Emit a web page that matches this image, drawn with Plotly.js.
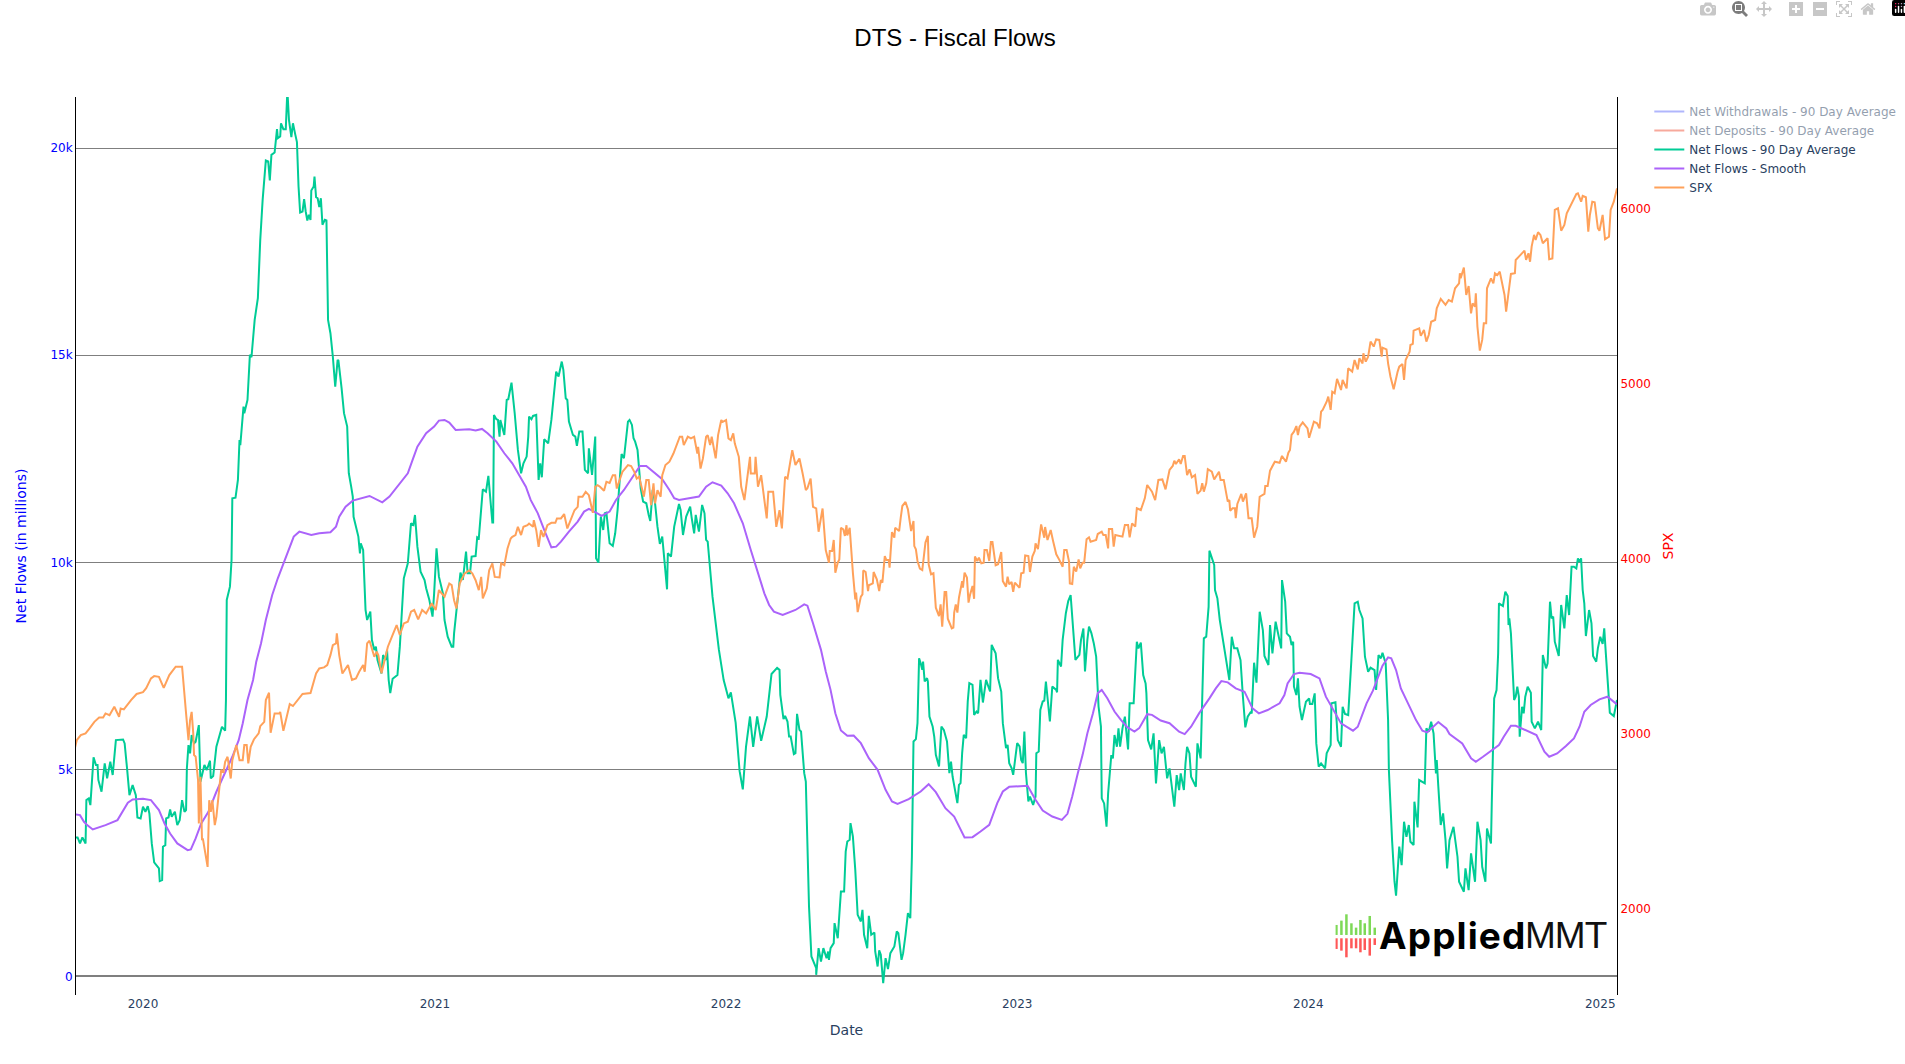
<!DOCTYPE html>
<html><head><meta charset="utf-8">
<script src="https://cdn.plot.ly/plotly-3.0.1.min.js"></script>
<style>html,body{margin:0;padding:0;background:#fff;overflow:hidden}#chart{width:1914px;height:1064px}.modebar-container{transform:translateY(-5px)}</style>
</head><body><div id="chart"></div>
<script>
// Every point is [years since 1 Jan 2020, value].
const netFlowsAvg = [
[-0.233,3357],[-0.223,3357],[-0.215,3212],[-0.208,3357],[-0.197,3212],[-0.192,4258],[-0.185,4298],[-0.178,4138],[-0.168,5290],[-0.16,5105],[-0.155,5105],[-0.151,4745],[-0.14,4460],[-0.13,5144],[-0.122,4785],[-0.112,5184],[-0.103,4865],[-0.091,5707],[-0.068,5723],[-0.061,5626],[-0.053,5023],[-0.046,4380],[-0.034,4620],[-0.027,4420],[-0.022,4380],[-0.018,3840],[-0.008,3816],[0.002,4097],[0.009,3977],[0.017,4113],[0.023,3936],[0.032,3212],[0.041,2753],[0.055,2608],[0.059,2302],[0.066,2326],[0.071,3131],[0.077,3172],[0.08,3816],[0.088,3840],[0.094,4033],[0.101,3856],[0.111,3977],[0.12,3655],[0.128,3775],[0.135,4258],[0.143,3977],[0.149,4017],[0.152,5023],[0.157,5587],[0.163,5386],[0.169,5828],[0.177,5627],[0.183,5667],[0.192,6070],[0.199,4701],[0.212,5105],[0.22,4985],[0.23,5210],[0.235,4782],[0.243,4842],[0.252,5547],[0.264,5789],[0.272,6029],[0.283,5934],[0.286,6673],
[0.289,9090],[0.3,9412],[0.305,10056],[0.309,11546],[0.318,11560],[0.326,11988],[0.332,12954],[0.336,12830],[0.346,13760],[0.35,13600],[0.361,13920],[0.367,15008],[0.375,14950],[0.384,15853],[0.396,16377],[0.404,17785],[0.413,18750],[0.423,19700],[0.431,19677],[0.436,19218],[0.441,19838],[0.452,19894],[0.46,20458],[0.463,20240],[0.471,20280],[0.476,20600],[0.483,20458],[0.491,20458],[0.497,21400],[0.503,20683],[0.51,20265],[0.516,20600],[0.523,20320],[0.531,20144],[0.535,19073],[0.54,18445],[0.549,18470],[0.555,18767],[0.56,18470],[0.566,18252],[0.572,18390],[0.575,18268],[0.579,18977],[0.586,19073],[0.589,19315],[0.595,18816],[0.601,18790],[0.606,18574],[0.612,18790],[0.618,18150],[0.625,18268],[0.63,18252],[0.636,15853],[0.644,15530],[0.652,14968],[0.661,14240],[0.669,14887],[0.673,14870],[0.682,14200],[0.686,13920],[0.692,13600],[0.701,13276],[0.709,12150],[0.715,11827],[0.721,11586],[0.724,11100],[0.732,10861],[0.74,10620],[0.746,10217],[0.749,10459],[0.757,10300],[0.764,8850],[0.771,8607],[0.783,8808],[0.787,8124],[0.795,7883],[0.801,7963],[0.807,7640],[0.82,7319],[0.826,7762],[0.833,7640],[0.839,7883],[0.844,7158],[0.85,6844],[0.858,7190],[0.875,7280],[0.883,7963],[0.898,9614],[0.91,9976],[0.921,10942],[0.929,10900],[0.936,11143],[0.942,10378],[0.955,9775],[0.967,9573],[0.973,9372],[0.984,9090],[0.994,8688],[1.001,9251],[1.008,10338],[1.016,9654],[1.03,9250],[1.037,8607],[1.047,8205],[1.062,7963],[1.066,7963],[1.07,8285],[1.087,9734],[1.092,9750],[1.1,9573],[1.11,10258],[1.116,9734],[1.123,9734],[1.13,10137],[1.142,10150],[1.148,10604],[1.153,10580],[1.167,11763],[1.179,11706],[1.187,12085],[1.2,10958],[1.202,10958],[1.206,13558],[1.213,13453],[1.22,13437],[1.224,13035],[1.227,13437],[1.241,13075],[1.249,13920],[1.256,13936],[1.265,14339],[1.277,13598],[1.287,12713],[1.299,12150],[1.307,12390],[1.318,12552],[1.324,13035],[1.327,13518],[1.335,13453],[1.341,13534],[1.352,13558],[1.358,11988],[1.364,12390],[1.371,12053],[1.379,12970],[1.393,12874],[1.402,13437],[1.419,14604],[1.428,14484],[1.439,14846],[1.445,14645],[1.453,13960],[1.459,13920],[1.464,13397],[1.476,13075],[1.485,13035],[1.492,12809],[1.499,13156],[1.51,13156],[1.517,12230],[1.528,12150],[1.533,12753],[1.542,12110],[1.553,13035],[1.556,10097],[1.564,9992],[1.573,11103],[1.58,10780],[1.586,11183],[1.593,11199],[1.602,10459],[1.613,10394],[1.621,10700],[1.63,11264],[1.645,12616],[1.653,12512],[1.665,13397],[1.671,13437],[1.68,13317],[1.684,12995],[1.691,12914],[1.699,12713],[1.705,12150],[1.71,11787],[1.718,11465],[1.728,11425],[1.736,11143],[1.743,10998],[1.751,11747],[1.76,11425],[1.768,10860],[1.776,10443],[1.785,10620],[1.79,10217],[1.799,9348],[1.804,10217],[1.813,10137],[1.825,10861],[1.842,11409],[1.848,11264],[1.856,10660],[1.867,11103],[1.879,11344],[1.884,11063],[1.893,10700],[1.899,11143],[1.91,10740],[1.92,11385],[1.928,11183],[1.934,10540],[1.94,10500],[1.945,10056],[1.956,9170],[1.977,7890],[1.994,7156],[2.01,6716],[2.02,6860],[2.036,6130],[2.05,4957],[2.06,4517],[2.072,5543],[2.086,6277],[2.097,5543],[2.11,6277],[2.122,5690],[2.143,6277],[2.16,7303],[2.177,7450],
[2.185,7403],[2.188,6800],[2.199,6212],[2.206,6293],[2.214,6156],[2.219,5794],[2.225,5794],[2.236,5367],[2.242,5392],[2.246,6340],[2.254,5955],[2.261,5915],[2.265,5270],[2.272,4908],[2.277,4708],[2.281,3300],[2.288,1690],[2.295,483],[2.303,322],[2.311,200],[2.313,40],[2.32,684],[2.328,362],[2.338,684],[2.347,442],[2.352,603],[2.357,402],[2.362,684],[2.372,805],[2.376,1288],[2.385,925],[2.397,2052],[2.408,2052],[2.414,3018],[2.42,3259],[2.428,3300],[2.431,3702],[2.437,3380],[2.446,2575],[2.455,1489],[2.465,1328],[2.471,1609],[2.476,1006],[2.488,684],[2.494,1465],[2.502,1006],[2.511,1062],[2.515,603],[2.524,241],[2.528,628],[2.534,523],[2.542,-161],[2.549,442],[2.559,177],[2.568,563],[2.58,724],[2.588,1086],[2.595,1046],[2.604,402],[2.611,563],[2.62,1006],[2.628,1529],[2.635,1408],[2.64,2897],[2.645,5673],[2.654,5730],[2.66,6116],[2.666,7685],[2.671,7564],[2.677,7403],[2.679,7605],[2.684,7122],[2.692,7202],[2.696,7122],[2.702,6277],[2.711,6035],[2.717,5794],[2.723,5351],[2.734,5070],[2.742,6035],[2.751,5955],[2.76,5673],[2.768,4908],[2.774,5190],[2.78,4828],[2.796,4184],[2.803,4627],[2.809,4667],[2.812,5392],[2.818,5834],[2.826,5754],[2.831,6639],[2.837,7081],[2.849,7041],[2.853,6317],[2.862,6397],[2.868,6357],[2.875,7162],[2.883,6615],[2.894,7162],[2.908,6880],[2.915,8007],[2.929,7805],[2.932,7645],[2.937,7202],[2.946,6880],[2.952,6116],[2.963,5512],[2.97,5593],[2.974,5150],[2.983,5030],[2.989,4868],[3.001,5633],[3.009,5553],[3.015,5230],[3.021,5150],[3.026,5915],[3.032,4908],[3.041,4225],[3.047,4345],[3.057,4144],[3.064,4345],[3.068,5392],[3.077,5432],[3.082,6437],[3.089,6639],[3.095,6660],[3.1,7122],[3.107,6679],[3.115,6156],[3.123,7001],[3.135,6920],[3.139,6860],[3.142,7645],[3.153,7484],[3.158,8128],[3.17,8770],[3.178,9063],[3.186,9210],[3.192,8700],[3.203,7645],[3.215,7765],[3.22,8128],[3.228,8400],[3.235,7363],[3.243,8128],[3.249,8450],[3.258,8290],[3.266,8047],[3.272,7725],[3.281,6518],[3.289,6035],[3.293,4300],[3.301,4179],[3.309,3615],[3.313,4420],[3.324,5346],[3.33,5266],[3.335,5829],[3.343,5547],[3.35,5990],[3.355,5547],[3.364,5990],[3.371,6272],[3.382,5483],[3.389,6594],[3.403,6594],[3.412,8083],[3.419,7922],[3.427,8059],[3.434,7278],[3.442,7077],[3.446,6835],[3.452,5708],[3.461,5483],[3.469,5869],[3.478,4662],[3.49,5708],[3.498,5386],[3.507,5547],[3.516,4783],[3.526,5024],[3.541,4098],[3.549,4863],[3.559,4501],[3.564,4903],[3.575,4501],[3.579,5145],[3.584,5547],[3.593,5386],[3.599,4823],[3.614,4581],[3.62,5628],[3.633,5266],[3.644,8164],[3.652,8204],[3.658,8928],[3.663,10281],[3.679,9935],[3.682,9331],[3.69,9130],[3.698,8606],[3.713,7882],[3.721,7520],[3.73,7157],[3.739,8204],[3.747,7922],[3.758,7922],[3.77,7640],[3.776,6755],[3.785,6014],[3.794,6272],[3.805,6393],[3.808,6350],[3.815,7576],[3.823,7093],[3.833,8808],[3.845,8365],[3.85,7737],[3.864,7520],[3.869,8486],[3.879,7801],[3.888,8566],[3.908,7922],[3.912,9572],[3.922,9049],[3.928,8284],[3.939,8204],[3.943,8003],[3.948,8084],[3.953,6996],[3.959,6795],[3.967,7198],[3.97,6513],[3.98,6191],[3.993,6634],[4.003,6715],[4.007,6578],[4.016,6578],[4.022,6835],[4.028,5628],[4.037,5064],[4.045,5145],[4.06,5024],[4.064,5386],[4.079,5587],[4.081,6594],[4.094,6618],[4.102,5708],[4.114,5547],[4.119,6513],[4.128,6336],[4.138,6312],[4.148,7640],[4.159,9009],[4.171,9049],[4.176,8848],[4.188,8647],[4.197,7721],[4.208,7359],[4.216,7455],[4.228,7399],[4.234,6916],[4.243,7761],[4.251,7681],[4.257,7818],[4.268,7560],[4.274,6191],[4.279,4984],[4.288,3293],[4.296,2300],[4.303,1950],[4.313,3134],[4.322,2690],[4.33,3736],[4.337,3374],[4.345,3656],[4.353,3253],[4.363,3173],[4.366,4219],[4.376,3599],[4.382,4742],[4.393,4702],[4.402,4663],[4.407,5990],[4.416,5910],[4.424,6151],[4.431,5869],[4.439,4903],[4.442,5225],[4.448,4581],[4.456,3656],[4.465,3937],[4.473,3293],[4.477,2609],[4.485,3293],[4.5,3615],[4.508,3092],[4.514,2891],[4.519,2287],[4.534,2046],[4.54,2609],[4.551,2086],[4.559,2971],[4.573,2287],[4.582,3736],[4.593,3293],[4.599,2649],[4.608,2287],[4.616,3575],[4.628,3213],[4.631,4179],[4.635,5386],[4.639,6715],[4.647,6916],[4.653,7801],[4.657,9009],[4.67,8945],[4.677,9291],[4.685,9186],[4.688,8486],[4.692,8647],[4.696,8284],[4.708,6674],[4.713,6755],[4.718,6996],[4.723,6755],[4.727,5789],[4.734,6513],[4.74,6352],[4.745,6755],[4.753,6996],[4.764,6852],[4.768,6151],[4.78,5990],[4.791,6151],[4.8,5950],[4.807,7761],[4.816,7439],[4.822,7560],[4.83,9049],[4.837,8647],[4.843,8690],[4.847,8083],[4.86,7737],[4.87,8969],[4.879,8405],[4.889,9210],[4.897,8727],[4.906,9894],[4.914,9894],[4.92,9850],[4.927,10096],[4.931,10010],[4.937,10096],[4.942,9331],[4.948,9009],[4.954,8220],[4.965,8848],[4.974,8526],[4.98,7737],[4.991,7600],[4.996,7922],[5.004,8204],[5.011,8027],[5.017,8405],[5.022,7801],[5.036,6369],[5.051,6288],[5.062,6674]
];
const netFlowsSmooth = [
[-0.233,3920],[-0.214,3896],[-0.2,3735],[-0.189,3655],[-0.172,3550],[-0.126,3655],[-0.086,3775],[-0.069,3977],[-0.051,4194],[-0.034,4275],[0,4290],[0.029,4258],[0.055,4017],[0.074,3695],[0.094,3453],[0.12,3212],[0.154,3051],[0.166,3067],[0.183,3333],[0.2,3695],[0.227,3977],[0.252,4460],[0.28,4862],[0.309,5305],[0.33,5707],[0.343,6110],[0.36,6673],[0.378,7158],[0.389,7600],[0.406,8044],[0.423,8607],[0.446,9211],[0.463,9614],[0.483,9976],[0.503,10298],[0.52,10620],[0.538,10740],[0.578,10660],[0.606,10700],[0.646,10724],[0.664,10861],[0.675,11103],[0.696,11344],[0.721,11489],[0.778,11602],[0.822,11449],[0.847,11586],[0.881,11868],[0.91,12149],[0.927,12471],[0.944,12793],[0.973,13115],[1.001,13276],[1.018,13421],[1.035,13437],[1.053,13373],[1.075,13196],[1.121,13212],[1.144,13180],[1.164,13220],[1.184,13115],[1.213,12914],[1.241,12632],[1.27,12390],[1.293,12109],[1.316,11827],[1.333,11505],[1.356,11183],[1.379,10781],[1.39,10580],[1.404,10362],[1.419,10378],[1.436,10499],[1.464,10740],[1.493,10982],[1.516,11224],[1.533,11288],[1.556,11200],[1.577,11119],[1.602,11224],[1.625,11505],[1.653,11747],[1.682,12053],[1.707,12326],[1.728,12326],[1.756,12173],[1.785,12005],[1.808,11747],[1.825,11546],[1.842,11505],[1.911,11586],[1.933,11827],[1.956,11932],[1.985,11852],[2.008,11666],[2.031,11425],[2.06,10942],[2.088,10298],[2.117,9654],[2.134,9251],[2.151,8970],[2.168,8809],[2.197,8728],[2.242,8849],[2.271,8986],[2.282,8953],[2.3,8527],[2.317,8124],[2.328,7886],[2.345,7363],[2.362,6920],[2.379,6357],[2.397,5939],[2.42,5810],[2.442,5818],[2.465,5633],[2.494,5271],[2.523,4989],[2.551,4506],[2.572,4225],[2.591,4168],[2.631,4281],[2.671,4466],[2.698,4643],[2.723,4450],[2.757,4064],[2.786,3863],[2.82,3356],[2.849,3364],[2.877,3500],[2.906,3661],[2.934,4184],[2.954,4466],[2.974,4579],[3.037,4603],[3.066,4265],[3.089,4007],[3.123,3863],[3.155,3782],[3.175,3927],[3.192,4345],[3.209,4909],[3.226,5351],[3.243,5874],[3.261,6357],[3.278,6840],[3.291,6920],[3.312,6719],[3.335,6397],[3.358,6196],[3.381,6019],[3.404,5915],[3.421,5995],[3.449,6333],[3.466,6317],[3.495,6180],[3.524,6116],[3.559,5910],[3.576,5853],[3.599,6030],[3.627,6352],[3.662,6715],[3.684,6956],[3.702,7133],[3.724,7101],[3.753,6956],[3.782,6876],[3.81,6473],[3.831,6352],[3.862,6433],[3.902,6594],[3.919,6795],[3.93,7077],[3.951,7302],[3.97,7335],[4.01,7302],[4.039,7198],[4.062,6755],[4.085,6433],[4.114,6111],[4.154,5934],[4.171,6030],[4.2,6594],[4.222,6900],[4.257,7504],[4.274,7705],[4.285,7681],[4.302,7399],[4.319,6956],[4.337,6674],[4.371,6191],[4.392,5934],[4.408,5894],[4.448,6143],[4.474,5990],[4.485,5853],[4.531,5628],[4.56,5266],[4.577,5185],[4.6,5306],[4.656,5588],[4.673,5789],[4.696,6054],[4.713,6054],[4.753,5934],[4.784,5829],[4.811,5427],[4.828,5306],[4.856,5386],[4.885,5563],[4.914,5749],[4.931,6030],[4.948,6393],[4.971,6554],[5,6691],[5.028,6755],[5.062,6570]
];
const spx = [
[-0.233,2904],[-0.226,2961],[-0.212,2990],[-0.195,3000],[-0.183,3028],[-0.166,3066],[-0.149,3091],[-0.135,3091],[-0.128,3114],[-0.114,3104],[-0.097,3152],[-0.082,3095],[-0.074,3142],[-0.063,3137],[-0.04,3190],[-0.02,3225],[0,3235],[0.012,3258],[0.029,3314],[0.04,3327],[0.057,3323],[0.072,3260],[0.092,3333],[0.114,3381],[0.135,3381],[0.143,3190],[0.149,3114],[0.157,2961],[0.162,3076],[0.168,3123],[0.174,3000],[0.177,2876],[0.183,2867],[0.189,2733],[0.192,2485],[0.198,2752],[0.203,2390],[0.208,2400],[0.214,2304],[0.222,2237],[0.229,2618],[0.235,2552],[0.24,2618],[0.248,2476],[0.254,2523],[0.263,2695],[0.269,2790],[0.277,2780],[0.283,2838],[0.292,2866],[0.303,2742],[0.309,2847],[0.323,2933],[0.332,2847],[0.343,2847],[0.349,2933],[0.357,2933],[0.364,2828],[0.372,2923],[0.383,2965],[0.398,3000],[0.404,3041],[0.418,3066],[0.423,3190],[0.435,3232],[0.439,3003],[0.454,3114],[0.469,3114],[0.473,3123],[0.483,3015],[0.494,3095],[0.506,3167],[0.515,3156],[0.523,3175],[0.532,3190],[0.55,3225],[0.575,3230],[0.595,3342],[0.606,3371],[0.624,3377],[0.635,3390],[0.646,3447],[0.654,3504],[0.664,3514],[0.668,3571],[0.675,3447],[0.686,3342],[0.704,3390],[0.719,3305],[0.732,3314],[0.744,3352],[0.757,3390],[0.763,3352],[0.772,3514],[0.778,3529],[0.795,3438],[0.803,3466],[0.81,3447],[0.821,3343],[0.833,3447],[0.841,3495],[0.858,3562],[0.872,3619],[0.883,3562],[0.898,3628],[0.91,3638],[0.921,3695],[0.932,3705],[0.947,3651],[0.959,3705],[0.973,3685],[0.993,3743],[1.007,3705],[1.018,3819],[1.035,3781],[1.053,3856],[1.062,3847],[1.07,3761],[1.078,3713],[1.087,3856],[1.104,3913],[1.121,3932],[1.133,3913],[1.144,3875],[1.153,3818],[1.162,3894],[1.169,3771],[1.181,3828],[1.19,3932],[1.201,3971],[1.21,3894],[1.224,3891],[1.23,3971],[1.241,3961],[1.253,4056],[1.264,4113],[1.27,4123],[1.281,4133],[1.288,4180],[1.299,4133],[1.307,4180],[1.321,4190],[1.327,4199],[1.339,4180],[1.344,4218],[1.352,4161],[1.359,4066],[1.367,4161],[1.377,4123],[1.39,4190],[1.402,4203],[1.416,4203],[1.421,4228],[1.436,4228],[1.447,4253],[1.459,4171],[1.47,4218],[1.482,4275],[1.493,4294],[1.497,4352],[1.51,4352],[1.522,4380],[1.531,4361],[1.537,4314],[1.545,4260],[1.553,4409],[1.562,4418],[1.57,4409],[1.585,4386],[1.593,4437],[1.602,4431],[1.613,4475],[1.622,4475],[1.628,4399],[1.636,4437],[1.648,4494],[1.665,4533],[1.676,4527],[1.688,4494],[1.696,4456],[1.705,4466],[1.713,4409],[1.722,4352],[1.73,4447],[1.736,4447],[1.745,4304],[1.753,4428],[1.76,4314],[1.768,4390],[1.779,4352],[1.785,4475],[1.796,4533],[1.808,4552],[1.822,4599],[1.836,4656],[1.844,4695],[1.851,4695],[1.857,4647],[1.871,4695],[1.882,4685],[1.893,4695],[1.903,4599],[1.908,4637],[1.914,4513],[1.922,4571],[1.933,4695],[1.939,4704],[1.948,4647],[1.954,4695],[1.968,4571],[1.974,4704],[1.985,4790],[1.993,4780],[2.002,4790],[2.011,4685],[2.019,4675],[2.027,4714],[2.034,4656],[2.046,4580],[2.054,4409],[2.065,4333],[2.073,4428],[2.085,4580],[2.088,4485],[2.1,4485],[2.105,4580],[2.113,4409],[2.122,4475],[2.134,4333],[2.142,4228],[2.149,4380],[2.165,4380],[2.174,4180],[2.185,4275],[2.195,4171],[2.206,4466],[2.214,4456],[2.219,4514],[2.231,4618],[2.242,4533],[2.254,4571],[2.265,4485],[2.277,4390],[2.283,4400],[2.294,4456],[2.3,4294],[2.311,4285],[2.32,4152],[2.334,4285],[2.345,4047],
[2.357,3975],[2.36,4042],[2.368,4042],[2.371,4105],[2.378,3918],[2.386,3975],[2.391,3994],[2.398,4175],[2.405,4165],[2.411,4128],[2.415,4189],[2.42,4131],[2.428,4175],[2.437,3918],[2.445,3766],[2.449,3804],[2.454,3693],[2.466,3781],[2.471,3794],[2.475,3931],[2.481,3922],[2.49,3813],[2.494,3846],[2.506,3857],[2.51,3922],[2.519,3880],[2.529,3813],[2.534,3876],[2.54,3861],[2.548,4013],[2.552,3990],[2.56,3990],[2.563,3947],[2.571,4150],[2.58,4118],[2.584,4175],[2.597,4156],[2.603,4232],[2.609,4299],[2.618,4322],[2.626,4280],[2.637,4156],[2.645,4213],[2.649,4070],[2.655,4051],[2.66,3985],[2.668,3941],[2.677,3933],[2.687,4090],[2.695,4128],[2.698,3966],[2.706,3909],[2.715,3915],[2.723,3718],[2.735,3670],[2.738,3737],[2.744,3610],[2.754,3808],[2.758,3808],[2.763,3655],[2.777,3600],[2.783,3604],[2.786,3690],[2.792,3737],[2.797,3690],[2.801,3775],[2.809,3823],[2.812,3870],[2.816,3832],[2.82,3918],[2.83,3890],[2.835,3747],[2.841,3794],[2.849,3842],[2.854,3769],[2.858,4010],[2.866,3985],[2.872,4004],[2.878,3971],[2.886,3975],[2.891,4048],[2.897,4048],[2.906,3985],[2.912,4093],[2.918,4093],[2.929,3960],[2.937,3966],[2.946,4036],[2.954,3870],[2.963,3838],[2.968,3895],[2.975,3851],[2.984,3865],[2.987,3808],[2.994,3861],[3.009,3832],[3.015,3914],[3.023,3918],[3.03,4017],[3.041,4013],[3.047,3922],[3.053,4010],[3.061,4042],[3.066,4086],[3.073,4052],[3.083,4194],[3.095,4118],[3.098,4179],[3.106,4105],[3.118,4162],[3.126,4099],[3.135,4023],[3.147,3990],[3.157,3952],[3.163,4048],[3.171,4048],[3.18,3981],[3.184,3857],[3.192,3853],[3.197,3952],[3.205,3924],[3.212,3994],[3.218,3943],[3.226,3975],[3.232,3975],[3.241,4109],[3.249,4120],[3.255,4095],[3.272,4105],[3.278,4139],[3.291,4152],[3.297,4133],[3.306,4133],[3.313,4057],[3.318,4168],[3.327,4168],[3.333,4067],[3.34,4133],[3.363,4124],[3.371,4190],[3.383,4190],[3.389,4120],[3.395,4200],[3.407,4181],[3.413,4286],[3.427,4276],[3.439,4343],[3.448,4419],[3.464,4381],[3.476,4333],[3.487,4448],[3.501,4451],[3.512,4394],[3.524,4505],[3.535,4528],[3.541,4558],[3.546,4539],[3.558,4566],[3.564,4539],[3.572,4585],[3.576,4585],[3.585,4476],[3.594,4509],[3.601,4463],[3.613,4476],[3.622,4368],[3.632,4387],[3.638,4429],[3.644,4381],[3.652,4429],[3.657,4509],[3.67,4495],[3.678,4451],[3.69,4486],[3.695,4495],[3.701,4448],[3.712,4448],[3.724,4324],[3.73,4333],[3.732,4272],[3.741,4286],[3.749,4286],[3.751,4229],[3.759,4311],[3.772,4368],[3.778,4324],[3.787,4371],[3.795,4229],[3.806,4229],[3.816,4118],[3.827,4181],[3.834,4352],[3.85,4368],[3.853,4413],[3.861,4413],[3.869,4501],[3.887,4552],[3.903,4546],[3.91,4585],[3.924,4552],[3.933,4604],[3.939,4619],[3.943,4705],[3.953,4724],[3.961,4756],[3.965,4705],[3.97,4752],[3.981,4777],[3.999,4743],[4.004,4689],[4.016,4752],[4.021,4781],[4.032,4772],[4.041,4743],[4.045,4838],[4.052,4848],[4.064,4895],[4.071,4924],[4.079,4848],[4.084,4952],[4.092,4943],[4.101,5025],[4.113,4962],[4.119,5019],[4.134,4971],[4.139,5086],[4.153,5067],[4.161,5133],[4.17,5080],[4.176,5143],[4.187,5114],[4.191,5171],[4.199,5124],[4.208,5152],[4.214,5238],[4.227,5210],[4.233,5251],[4.245,5248],[4.252,5152],[4.256,5204],[4.271,5194],[4.275,5114],[4.284,5038],[4.295,4966],[4.308,5067],[4.313,5095],[4.325,5110],[4.33,5019],[4.336,5133],[4.348,5181],[4.353,5219],[4.361,5225],[4.364,5301],[4.382,5314],[4.388,5271],[4.399,5305],[4.407,5238],[4.416,5276],[4.424,5352],[4.436,5362],[4.442,5429],[4.456,5482],[4.473,5448],[4.483,5476],[4.493,5467],[4.504,5543],[4.519,5571],[4.521,5629],[4.525,5600],[4.536,5661],[4.544,5505],[4.553,5556],[4.559,5400],[4.565,5457],[4.573,5438],[4.576,5514],[4.583,5324],[4.591,5187],[4.599,5248],[4.605,5343],[4.611,5343],[4.616,5543],[4.628,5600],[4.636,5571],[4.642,5629],[4.651,5619],[4.659,5638],[4.674,5505],[4.679,5410],[4.687,5476],[4.697,5625],[4.71,5629],[4.714,5705],[4.725,5724],[4.742,5758],[4.748,5705],[4.756,5743],[4.762,5695],[4.769,5781],[4.777,5848],[4.783,5819],[4.791,5863],[4.799,5848],[4.807,5800],[4.822,5829],[4.828,5709],[4.84,5714],[4.847,5991],[4.859,6000],[4.87,5872],[4.88,5905],[4.889,5971],[4.9,6010],[4.908,6033],[4.922,6082],[4.928,6086],[4.937,6038],[4.943,6071],[4.954,6063],[4.961,5867],[4.968,5962],[4.977,6038],[4.983,6034],[4.994,5886],[5,5872],[5.011,5962],[5.02,5823],[5.034,5838],[5.04,5991],[5.051,6038],[5.062,6114]
];
// Hidden in the reference (legend only): placeholders, never drawn.
const netWithdrawalsAvg = [[-0.233,20000],[5.06,25000]];
const netDepositsAvg = [[-0.233,23000],[5.06,31000]];

const yearTicks = ['2020','2021','2022','2023','2024','2025'];
const flowTicks = [0,5000,10000,15000,20000];
const spxTicks = [2000,3000,4000,5000,6000];

const W = 1914, H = 1064;
const plot = {l:76, r:1617, t:97, b:995};
const FONT = '"DejaVu Sans", Verdana, sans-serif';
const INK = '#2a3f5f';
const toDate = t => new Date(Date.UTC(2020,0,1) + t*365.25*864e5).toISOString().slice(0,10);
const series = (name, pts, color, axis, hidden) => ({
  type:'scatter', mode:'lines', name, x:pts.map(p=>toDate(p[0])), y:pts.map(p=>p[1]),
  yaxis:axis, visible: hidden ? 'legendonly' : true, line:{color, width:2}
});
const traces = [
  series('Net Withdrawals - 90 Day Average', netWithdrawalsAvg, '#636efa', 'y', true),
  series('Net Deposits - 90 Day Average', netDepositsAvg, '#EF553B', 'y', true),
  series('Net Flows - 90 Day Average', netFlowsAvg, '#00cc96', 'y'),
  series('Net Flows - Smooth', netFlowsSmooth, '#ab63fa', 'y'),
  series('SPX', spx, '#FFA15A', 'y2')
];
const pw = plot.r-plot.l, ph = plot.b-plot.t;
const logoBars = [[103,135,207],[118,122,212],[133,103,232],[148,130,205],[162,143,205],[175,120,217],[188,130,210],[203,108,227],[218,143,195]];
const logoSvg = '<svg xmlns="http://www.w3.org/2000/svg" viewBox="100 100 125 135" width="125" height="135">' +
  logoBars.map(b=>`<rect x="${b[0]-4}" y="${b[1]}" width="7.5" height="${165-b[1]}" fill="#7ed957"/><rect x="${b[0]-4}" y="175" width="7.5" height="${b[2]-175}" fill="#ff5757"/>`).join('') + '</svg>';

const layout = {
  width:W, height:H, paper_bgcolor:'#fff', plot_bgcolor:'#fff',
  font:{family:FONT, size:12, color:INK},
  margin:{l:plot.l, r:W-plot.r, t:plot.t, b:H-plot.b, pad:0},
  title:{text:'DTS - Fiscal Flows', x:955/W, xanchor:'center', y:1-38/H, yanchor:'middle', yref:'container',
         font:{family:'"Liberation Sans", Arial, sans-serif', size:24, color:'#000'}},
  showlegend:true,
  legend:{x:1.02096, y:1, xanchor:'left', yanchor:'top', font:{family:FONT, size:12, color:INK}, bgcolor:'rgba(0,0,0,0)'},
  xaxis:{type:'date', range:['2019-10-09','2025-01-22'], tickmode:'array', tickvals:yearTicks.map(y=>y+'-01-01'), ticktext:yearTicks,
         showgrid:false, zeroline:false, showline:false, ticks:'', tickfont:{family:FONT, size:12, color:INK},
         automargin:false, title:{text:'Date', standoff:15, font:{family:FONT, size:14, color:INK}}},
  yaxis:{range:[-447,21234], tickmode:'array', tickvals:flowTicks, ticktext:flowTicks.map(v=>v? (v/1000)+'k':'0'),
         showgrid:true, gridcolor:'#7f7f7f', gridwidth:1, zeroline:true, zerolinecolor:'#7f7f7f', zerolinewidth:2,
         showline:true, linecolor:'#000', linewidth:1, ticks:'', tickfont:{family:FONT, size:12, color:'#0000ff'},
         automargin:false, title:{text:'Net Flows (in millions)', standoff:20, font:{family:FONT, size:14, color:'#0000ff'}}},
  yaxis2:{range:[1505,6636], overlaying:'y', side:'right', tickmode:'array', tickvals:spxTicks, ticktext:spxTicks.map(String),
         showgrid:false, zeroline:false, showline:true, linecolor:'#000', linewidth:1, ticks:'', tickfont:{family:FONT, size:12, color:'#ff0000'},
         automargin:false, title:{text:'SPX', standoff:13, font:{family:FONT, size:14, color:'#ff0000'}}},
  images:[{source:'data:image/svg+xml;utf8,'+encodeURIComponent(logoSvg), xref:'paper', yref:'paper',
           x:(1335.5-plot.l)/pw, y:1-(913.3-plot.t)/ph, sizex:125/3/pw, sizey:135/3/ph, xanchor:'left', yanchor:'top', sizing:'stretch', layer:'above'}],
  annotations:[
    {xref:'paper', yref:'paper', x:(1376.5-plot.l)/pw, y:1-(935-plot.t)/ph, xanchor:'left', yanchor:'middle', showarrow:false,
     text:'<span style="letter-spacing:1.1px">Applied</span>', font:{family:'Inter, sans-serif', size:37, weight:700, color:'#000'}},
    {xref:'paper', yref:'paper', x:(1522.5-plot.l)/pw, y:1-(935-plot.t)/ph, xanchor:'left', yanchor:'middle', showarrow:false,
     text:'<span style="letter-spacing:-1px">MMT</span>', font:{family:'"Liberation Sans", Arial, sans-serif', size:37, color:'#111'}}
  ]
};
Plotly.newPlot('chart', traces, layout, {displayModeBar:true, displaylogo:true, responsive:false});
</script></body></html>
